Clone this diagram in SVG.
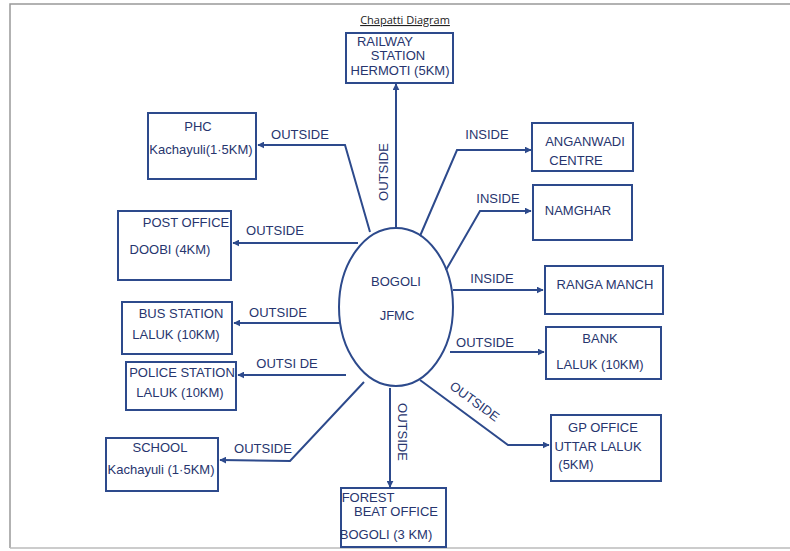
<svg xmlns="http://www.w3.org/2000/svg" width="790" height="551" viewBox="0 0 790 551">
<style>
.box{fill:none;stroke:#2d4a8c;stroke-width:2}
.ln{fill:none;stroke:#2d4a8c;stroke-width:2}
.t{font-family:"Liberation Sans",Arial,sans-serif;font-size:13px;fill:#27356e;text-anchor:middle}
.lb{font-family:"Liberation Sans",Arial,sans-serif;font-size:13px;fill:#27356e;text-anchor:middle}
</style>
<defs>
<marker id="ah" viewBox="0 0 10 10" refX="9" refY="5" markerWidth="7" markerHeight="7" orient="auto-start-reverse" markerUnits="userSpaceOnUse">
<path d="M0,0 L10,5 L0,10 z" fill="#2d4a8c"/>
</marker>
</defs>
<rect x="0" y="0" width="790" height="551" fill="#fff"/>
<path d="M10,548 L10,4 L790,4" fill="none" stroke="#999" stroke-width="1.5"/>
<path d="M10,548 L790,548" fill="none" stroke="#bbb" stroke-width="1.5"/>
<text x="405" y="24" font-family="'Open Sans','Liberation Sans',sans-serif" font-size="11" fill="#222" text-anchor="middle" text-decoration="underline">Chapatti Diagram</text>

<g id="connectors">
<path class="ln" marker-end="url(#ah)" d="M396,228 L396,84"/>
<path class="ln" marker-end="url(#ah)" d="M370,232 L345,145 L258,145"/>
<path class="ln" marker-end="url(#ah)" d="M358,243 L233,243"/>
<path class="ln" marker-end="url(#ah)" d="M341,323 L234,323"/>
<path class="ln" marker-end="url(#ah)" d="M346,375 L238,375"/>
<path class="ln" marker-end="url(#ah)" d="M364,382 L290,461 L220,460"/>
<path class="ln" marker-end="url(#ah)" d="M390,388 L390,487"/>
<path class="ln" marker-end="url(#ah)" d="M420,236 L457,150 L531,150"/>
<path class="ln" marker-end="url(#ah)" d="M446,270 L480,211 L531,211"/>
<path class="ln" marker-end="url(#ah)" d="M453,290 L543,290"/>
<path class="ln" marker-end="url(#ah)" d="M450,352 L544,352"/>
<path class="ln" marker-end="url(#ah)" d="M420,380 L508,445 L549,445"/>
<text class="lb" transform="translate(388,172) rotate(-90)">OUTSIDE</text>
<text class="lb" x="300" y="139">OUTSIDE</text>
<text class="lb" x="275" y="235">OUTSIDE</text>
<text class="lb" x="278" y="317">OUTSIDE</text>
<text class="lb" x="287" y="368">OUTSI DE</text>
<text class="lb" x="263" y="453">OUTSIDE</text>
<text class="lb" transform="translate(398,432) rotate(90)">OUTSIDE</text>
<text class="lb" x="487" y="139">INSIDE</text>
<text class="lb" x="498" y="203">INSIDE</text>
<text class="lb" x="492" y="283">INSIDE</text>
<text class="lb" x="485" y="347">OUTSIDE</text>
<text class="lb" transform="translate(472,405) rotate(36)">OUTSIDE</text>
</g>

<g id="center">
<ellipse cx="396" cy="307" rx="57" ry="79" class="box"/>
<text class="t" x="396" y="286">BOGOLI</text>
<text class="t" x="397" y="320">JFMC</text>
</g>

<g id="railway">
<rect class="box" x="346" y="33" width="107" height="50"/>
<text class="t" x="385" y="46" font-size="12">RAILWAY</text>
<text class="t" x="398" y="60" font-size="12">STATION</text>
<text class="t" x="400" y="75" font-size="12">HERMOTI (5KM)</text>
</g>
<g id="phc">
<rect class="box" x="148" y="113" width="108" height="66"/>
<text class="t" x="198" y="131">PHC</text>
<text class="t" x="201" y="154">Kachayuli(1·5KM)</text>
</g>
<g id="postoffice">
<rect class="box" x="118" y="211" width="113" height="69"/>
<text class="t" x="186" y="227">POST OFFICE</text>
<text class="t" x="170" y="254">DOOBI (4KM)</text>
</g>
<g id="busstation">
<rect class="box" x="122" y="302" width="110" height="52"/>
<text class="t" x="181" y="318">BUS STATION</text>
<text class="t" x="176" y="339">LALUK (10KM)</text>
</g>
<g id="policestation">
<rect class="box" x="126" y="362" width="110" height="48"/>
<text class="t" x="182" y="377" font-size="12">POLICE STATION</text>
<text class="t" x="180" y="397">LALUK (10KM)</text>
</g>
<g id="school">
<rect class="box" x="106" y="438" width="112" height="53"/>
<text class="t" x="160" y="452">SCHOOL</text>
<text class="t" x="161" y="474">Kachayuli (1·5KM)</text>
</g>
<g id="forest">
<rect class="box" x="341" y="488" width="105" height="59"/>
<text class="t" x="368" y="502" font-size="12">FOREST</text>
<text class="t" x="396" y="516" font-size="12">BEAT OFFICE</text>
<text class="t" x="386" y="539" font-size="12">BOGOLI (3 KM)</text>
</g>
<g id="anganwadi">
<rect class="box" x="532" y="123" width="101" height="48"/>
<text class="t" x="585" y="146">ANGANWADI</text>
<text class="t" x="576" y="165">CENTRE</text>
</g>
<g id="namghar">
<rect class="box" x="533" y="185" width="99" height="55"/>
<text class="t" x="578" y="215">NAMGHAR</text>
</g>
<g id="rangamanch">
<rect class="box" x="545" y="266" width="118" height="48"/>
<text class="t" x="605" y="289">RANGA MANCH</text>
</g>
<g id="bank">
<rect class="box" x="546" y="327" width="115" height="52"/>
<text class="t" x="600" y="343">BANK</text>
<text class="t" x="600" y="369">LALUK (10KM)</text>
</g>
<g id="gpoffice">
<rect class="box" x="551" y="415" width="110" height="66"/>
<text class="t" x="603" y="432">GP OFFICE</text>
<text class="t" x="598" y="451">UTTAR LALUK</text>
<text class="t" x="576" y="469">(5KM)</text>
</g>
</svg>
